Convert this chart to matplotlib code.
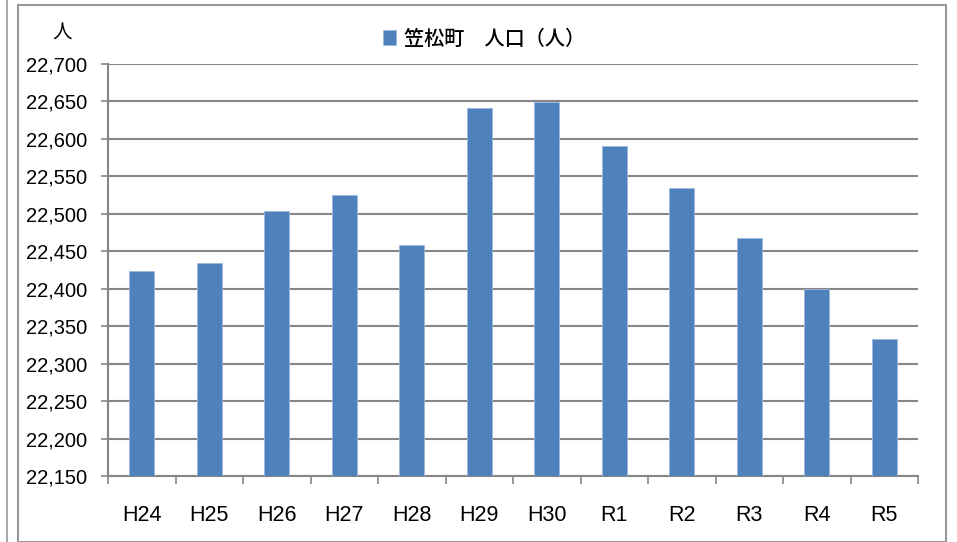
import matplotlib
matplotlib.use('Agg')
import matplotlib.pyplot as plt
from matplotlib.patches import Rectangle
from matplotlib.ticker import FuncFormatter, FixedLocator

plt.rcParams['font.family'] = ['Noto Sans CJK JP', 'DejaVu Sans']

years = ['H24', 'H25', 'H26', 'H27', 'H28', 'H29', 'H30', 'R1', 'R2', 'R3', 'R4', 'R5']
population = [22424, 22434, 22504, 22525, 22458, 22641, 22649, 22590, 22535, 22468, 22400, 22333]
y_ticks = list(range(22150, 22701, 50))

grid_color = '#868686'
bar_color = '#4F81BD'
num_font = ['Liberation Sans', 'DejaVu Sans']

fig = plt.figure(figsize=(9.57, 5.42), dpi=100)
ax = fig.add_axes([108 / 957, 1 - 476 / 542, 810 / 957, 412 / 542])

x = list(range(len(years)))
ax.bar(x, [p - 22150 for p in population], bottom=22150, width=0.37,
       color=bar_color, edgecolor='#9DB9DE', linewidth=0.6, zorder=3,
       label='笠松町\u3000人口（人）')

ax.set_xlim(-0.5, len(years) - 0.5)
ax.set_ylim(22150, 22700)
ax.yaxis.set_major_locator(FixedLocator(y_ticks))
ax.yaxis.set_major_formatter(FuncFormatter(lambda v, _: f'{int(v):,}'))
ax.grid(axis='y', color=grid_color, linewidth=1.5, zorder=0)

ax.set_xticks(x)
ax.set_xticklabels(years, fontsize=15.5, family=num_font)
ax.set_xticks([i - 0.5 for i in range(len(years) + 1)], minor=True)
ax.tick_params(axis='x', which='major', length=0, pad=21)
ax.tick_params(axis='x', which='minor', length=6, color=grid_color, width=1.2)
ax.tick_params(axis='y', length=5, color=grid_color, width=1.2, pad=10)
for lbl in ax.get_yticklabels():
    lbl.set_fontsize(14.5)
    lbl.set_family(num_font)

for side in ('top', 'right'):
    ax.spines[side].set_visible(False)
for side in ('left', 'bottom'):
    ax.spines[side].set_color(grid_color)
    ax.spines[side].set_linewidth(1.5)

fig.text(62 / 957, 1 - 33 / 542, '人', fontsize=14, ha='center', va='center')
fig.legend(loc='center', bbox_to_anchor=(484 / 957, 1 - 39 / 542), frameon=False,
           prop={'size': 14.5, 'weight': 'medium'}, handlelength=0.65, handleheight=0.75,
           handletextpad=0.35)

fig.patches.append(Rectangle((18 / 957, 0), 928 / 957, 1 - 5 / 542, transform=fig.transFigure,
                             fill=False, edgecolor='#999999', linewidth=1.5))
fig.patches.append(Rectangle((7 / 957, 0), 0, 1, transform=fig.transFigure,
                             fill=False, edgecolor='#999999', linewidth=1.2))

fig.savefig('out.png', dpi=100)
